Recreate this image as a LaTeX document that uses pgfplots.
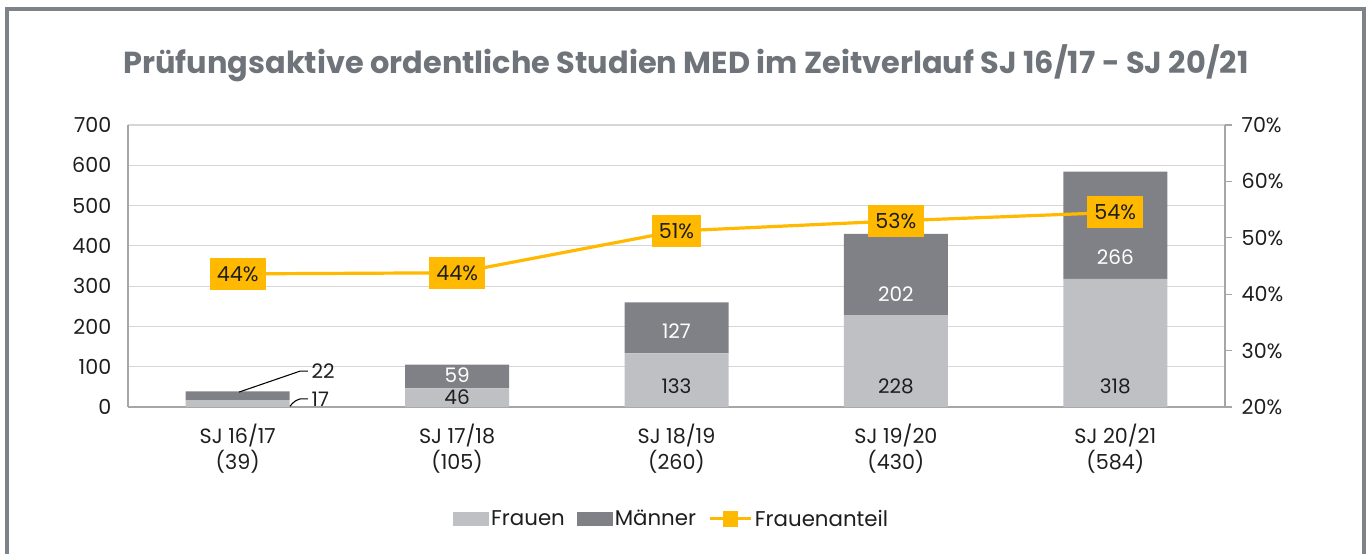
\documentclass[border=0pt]{standalone}
\usepackage{pgfplots}
\pgfplotsset{compat=1.18}
\usepackage{fontspec}
\setmainfont{Poppins}
\definecolor{frauen}{RGB}{191,192,196}
\definecolor{maenner}{RGB}{128,129,134}
\definecolor{gold}{RGB}{255,185,0}
\definecolor{framegray}{RGB}{125,131,137}
\definecolor{titlegray}{RGB}{110,116,122}
\definecolor{axisgray}{RGB}{166,166,166}
\definecolor{gridgray}{RGB}{214,214,214}
\definecolor{txt}{RGB}{30,30,30}
\tikzset{bl/.style={font=\fontsize{15}{18}\selectfont, text=txt}, wl/.style={font=\fontsize{15}{18}\selectfont, text=white}}
\begin{document}
\begin{tikzpicture}[x=0.75pt,y=0.75pt]
\useasboundingbox (-128,-146) rectangle (1242,407);
\draw[framegray, line width=3pt] (-121,-200) rectangle (1236,398);
\node[font=\bfseries\fontsize{22.8}{26}\selectfont, text=titlegray] at (558,344) {Prüfungsaktive ordentliche Studien MED im Zeitverlauf SJ 16/17 - SJ 20/21};
\begin{axis}[
  at={(0,0)}, anchor=south west, scale only axis,
  width=822.75pt, height=211.5pt,
  ybar stacked, bar width=78pt,
  xmin=-0.5, xmax=4.5, ymin=0, ymax=700,
  ytick={0,100,...,700},
  xtick={0,1,2,3,4},
  xticklabels={{SJ 16/17\\(39)},{SJ 17/18\\(105)},{SJ 18/19\\(260)},{SJ 19/20\\(430)},{SJ 20/21\\(584)}},
  xticklabel style={align=center, font=\fontsize{15.5}{19.5}\selectfont, text=txt, yshift=-9pt},
  yticklabel style={font=\fontsize{15.5}{18}\selectfont, text=txt, xshift=-9pt},
  /pgf/number format/assume math mode=true,
  axis x line*=bottom, axis y line*=left,
  axis line style={axisgray, line width=0.9pt, -},
  major tick length=0pt,
  ymajorgrids, grid style={gridgray, line width=0.9pt},
  clip=false,
]
\addplot[fill=frauen, draw=none] coordinates {(0,17) (1,46) (2,133) (3,228) (4,318)};
\addplot[fill=maenner, draw=none] coordinates {(0,22) (1,59) (2,127) (3,202) (4,266)};
\end{axis}
\begin{axis}[
  at={(0,0)}, anchor=south west, scale only axis,
  width=822.75pt, height=211.5pt,
  xmin=-0.5, xmax=4.5, ymin=0, ymax=700,
  hide axis, clip=false,
]
\node[bl] at (axis cs:1,24) {46};
\node[bl] at (axis cs:2,52) {133};
\node[bl] at (axis cs:3,52) {228};
\node[bl] at (axis cs:4,52) {318};
\node[wl] at (axis cs:1,79) {59};
\node[wl] at (axis cs:2,189) {127};
\node[wl] at (axis cs:3,280) {202};
\node[wl] at (axis cs:4,372) {266};
\draw[black, line width=0.8pt] (axis cs:0.006,37) -- (axis cs:0.284,89) -- (axis cs:0.32,89);
\draw[black, line width=0.8pt] (axis cs:0.238,2) .. controls (axis cs:0.26,15) .. (axis cs:0.284,20) -- (axis cs:0.32,20);
\node[bl, anchor=west, inner sep=1pt] at (axis cs:0.33,89) {22};
\node[bl, anchor=west, inner sep=1pt] at (axis cs:0.33,20) {17};
\end{axis}
\begin{axis}[
  at={(0,0)}, anchor=south west, scale only axis,
  width=822.75pt, height=211.5pt,
  xmin=-0.5, xmax=4.5, ymin=20, ymax=70,
  ytick={20,30,...,70},
  yticklabel={\pgfmathprintnumber{\tick}\%},
  yticklabel style={font=\fontsize{15.5}{18}\selectfont, text=txt, xshift=4pt},
  /pgf/number format/assume math mode=true,
  axis x line=none, axis y line*=right,
  axis line style={axisgray, line width=0.9pt, -},
  tick style={axisgray, line width=0.9pt},
  tick align=outside, major tick length=5pt,
  clip=false,
  legend style={at={(0.496,-0.397)}, anchor=center, draw=none, fill=none,
    legend columns=3, font=\fontsize{16}{18}\selectfont, text=txt,
    /tikz/every even column/.append style={column sep=7pt},
    legend cell align=left},
]
\addlegendimage{legend image code/.code={\fill[frauen] (0pt,-5pt) rectangle (26pt,5pt);}}
\addlegendentry{Frauen}
\addlegendimage{legend image code/.code={\fill[maenner] (0pt,-5pt) rectangle (26pt,5pt);}}
\addlegendentry{Männer}
\addplot[gold, line width=2.4pt, mark=square*, mark size=4pt, mark options={fill=gold},
  legend image code/.code={\draw[gold, line width=2.2pt] (0pt,0pt) -- (31pt,0pt); \fill[gold] (11pt,-4.5pt) rectangle (20pt,4.5pt);},
  nodes near coords, point meta=explicit symbolic,
  every node near coord/.style={anchor=center, fill=gold, text=txt, font=\fontsize{15.5}{18}\selectfont, minimum height=24pt, inner xsep=5.5pt}]
  coordinates {(0,43.6)[44\%] (1,43.8)[44\%] (2,51.2)[51\%] (3,53.0)[53\%] (4,54.5)[54\%]};
\addlegendentry{Frauenanteil}
\end{axis}
\end{tikzpicture}
\end{document}
